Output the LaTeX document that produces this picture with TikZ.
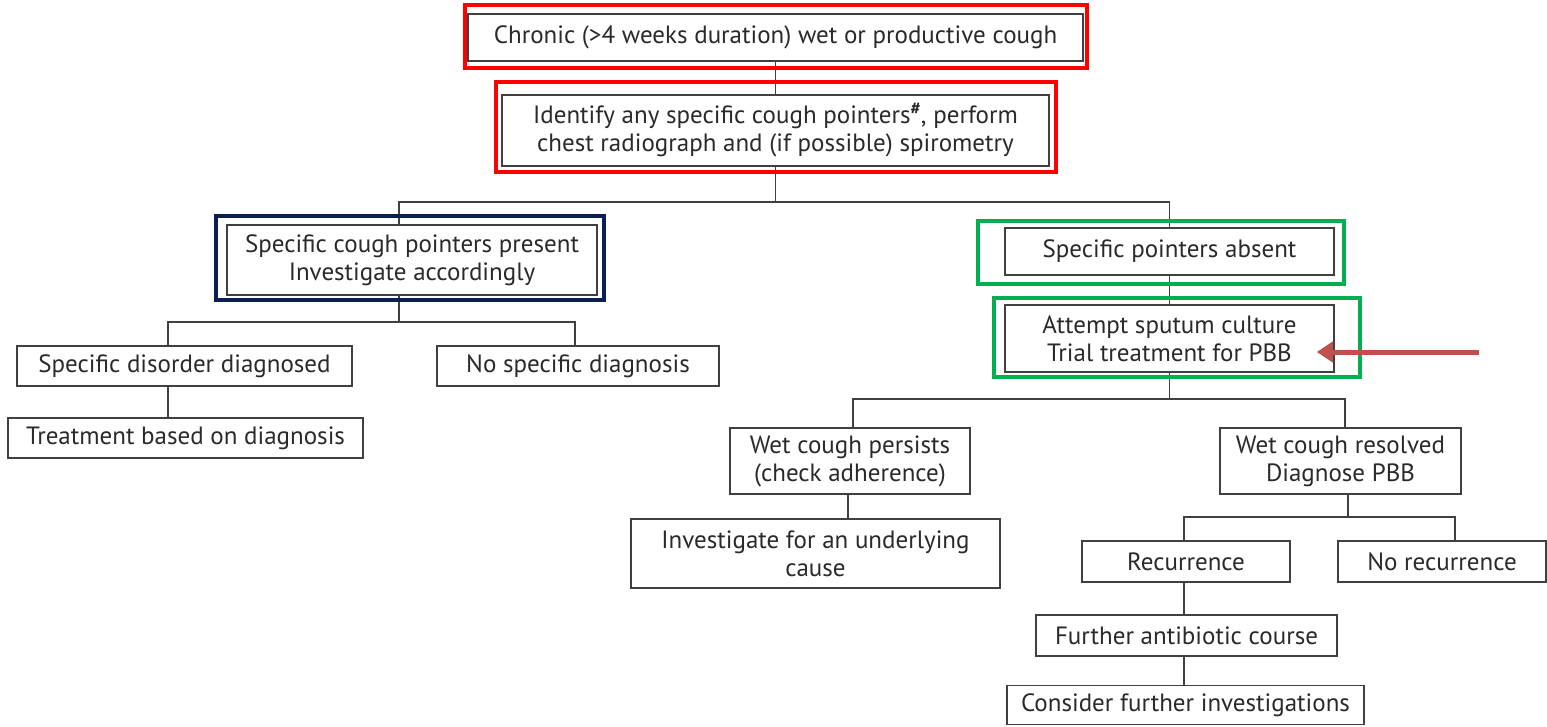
\documentclass[tikz,border=0pt]{standalone}
\usepackage{fontspec}
\setmainfont{PT Sans}[FakeStretch=1.0]
\usetikzlibrary{arrows.meta}
\definecolor{txt}{HTML}{2A2A2A}
\definecolor{edge}{HTML}{404040}
\definecolor{frred}{HTML}{FF0000}
\definecolor{frnavy}{HTML}{0B1F52}
\definecolor{frgreen}{HTML}{00B050}
\definecolor{arr}{HTML}{C0504D}
\begin{document}
\begin{tikzpicture}[x=1pt,y=-1pt,
  box/.style={draw=edge, line width=1.6pt, fill=white, text=txt, align=center, inner sep=0pt,
    font=\fontsize{25}{28}\selectfont},
  frame/.style={draw=#1, line width=4.5pt, inner sep=0pt},
  conn/.style={draw=edge, line width=1.4pt},
  redarrow/.style={draw=arr, line width=5pt, -{Triangle[length=16pt,width=20pt]}}]
\useasboundingbox (0,0) rectangle (1547,726);
% boxes
\node[box, minimum width=615pt, minimum height=47pt] (c1) at (775.5,37.5) {Chronic (>4 weeks duration) wet or productive cough};
\node[box, minimum width=547pt, minimum height=71pt] (b2) at (775.5,130.5) {Identify any specific cough pointers\textsuperscript{\textbf{\#}}, perform\\chest radiograph and (if possible) spirometry};
\node[box, minimum width=370pt, minimum height=70pt] (spp) at (412,260) {Specific cough pointers present\\Investigate accordingly};
\node[box, minimum width=329pt, minimum height=47pt] (spa) at (1169.5,251.5) {Specific pointers absent};
\node[box, minimum width=329pt, minimum height=67pt] (ast) at (1169.5,338.5) {Attempt sputum culture\\Trial treatment for PBB};
\node[box, minimum width=335pt, minimum height=40pt] (sdd) at (184.5,366) {Specific disorder diagnosed};
\node[box, minimum width=282pt, minimum height=40pt] (nsd) at (578,366) {No specific diagnosis};
\node[box, minimum width=355pt, minimum height=40pt] (tbd) at (185.5,438) {Treatment based on diagnosis};
\node[box, minimum width=240pt, minimum height=66pt] (wcp) at (850,461) {Wet cough persists\\(check adherence)};
\node[box, minimum width=241pt, minimum height=66pt] (wcr) at (1340.5,461) {Wet cough resolved\\Diagnose PBB};
\node[box, minimum width=369pt, minimum height=69pt] (iuc) at (815.5,553.5) {Investigate for an underlying\\cause};
\node[box, minimum width=208pt, minimum height=41pt] (rec) at (1186,561.5) {Recurrence};
\node[box, minimum width=208pt, minimum height=41pt] (nrec) at (1442,561.5) {No recurrence};
\node[box, minimum width=301pt, minimum height=41pt] (fac) at (1186.5,635.5) {Further antibiotic course};
\node[box, minimum width=357pt, minimum height=39pt] (cfi) at (1185.5,705) {Consider further investigations};
% anchor points for connectors
\coordinate (y1) at (0,202);
\coordinate (y2) at (0,322);
\coordinate (y3) at (0,399);
\coordinate (y4) at (0,517);
\coordinate (spptop) at ([xshift=-13pt]spp.north);
\coordinate (sppbot) at ([xshift=-13pt]spp.south);
\coordinate (sddtop) at ([xshift=-16.5pt]sdd.north);
\coordinate (sddbot) at ([xshift=-16.5pt]sdd.south);
\coordinate (nsdtop) at ([xshift=-3pt]nsd.north);
\coordinate (tbdtop) at ([xshift=-17.5pt]tbd.north);
\coordinate (wcptop) at ([xshift=3pt]wcp.north);
\coordinate (wcpbot) at ([xshift=-2pt]wcp.south);
\coordinate (wcrtop) at ([xshift=4.5pt]wcr.north);
\coordinate (wcrbot) at ([xshift=7.5pt]wcr.south);
\coordinate (iuctop) at ([xshift=32.5pt]iuc.north);
\coordinate (rectop) at ([xshift=-2pt]rec.north);
\coordinate (recbot) at ([xshift=-2pt]rec.south);
\coordinate (nrectop) at ([xshift=13pt]nrec.north);
\coordinate (factop) at ([xshift=-2.5pt]fac.north);
\coordinate (facbot) at ([xshift=-2.5pt]fac.south);
\coordinate (cfitop) at ([xshift=-1.5pt]cfi.north);
% connectors
\draw[conn] (c1.south) -- (b2.north);
\draw[conn] (b2.south) -- (b2.south |- y1);
\draw[conn] (spptop) |- (y1 -| spa.north) -- (spa.north);
\draw[conn] (sppbot) -- (sppbot |- y2);
\draw[conn] (sddtop) |- (y2 -| nsdtop) -- (nsdtop);
\draw[conn] (sddbot) -- (tbdtop);
\draw[conn] (spa.south) -- (ast.north);
\draw[conn] (ast.south) -- (ast.south |- y3);
\draw[conn] (wcptop) |- (y3 -| wcrtop) -- (wcrtop);
\draw[conn] (wcpbot) -- (iuctop);
\draw[conn] (wcrbot) -- (wcrbot |- y4);
\draw[conn] (rectop) |- (y4 -| nrectop) -- (nrectop);
\draw[conn] (recbot) -- (factop);
\draw[conn] (facbot) -- (cfitop);
% coloured frames
\node[frame=frred, minimum width=622pt, minimum height=63pt] (f1) at (776,36.5) {};
\node[frame=frred, minimum width=560pt, minimum height=90pt] (f2) at (776,127) {};
\node[frame=frnavy, minimum width=388pt, minimum height=84pt] (f3) at (410,258) {};
\node[frame=frgreen, minimum width=366pt, minimum height=63pt] (f4) at (1161,252.5) {};
\node[frame=frgreen, minimum width=366pt, minimum height=79pt] (f5) at (1177,337.5) {};
% red arrow
\coordinate (arrtail) at (1479,352);
\coordinate (arrtip) at ([xshift=-18pt,yshift=-13.5pt]ast.east);
\draw[redarrow] (arrtail) -- (arrtail -| arrtip);
\end{tikzpicture}
\end{document}
